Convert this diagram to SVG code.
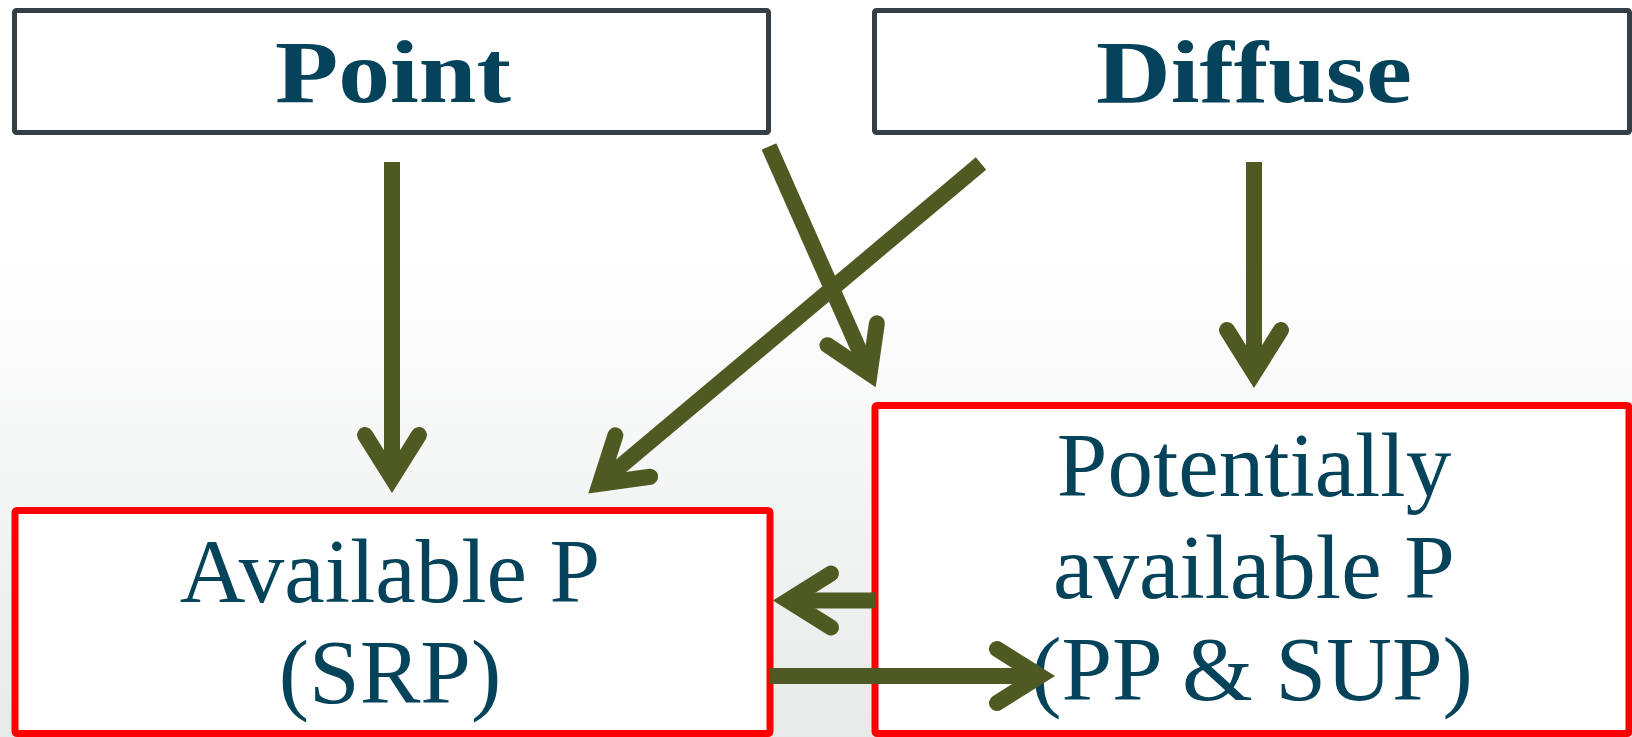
<svg xmlns="http://www.w3.org/2000/svg" width="1632" height="737" viewBox="0 0 1632 737">
  <defs>
    <linearGradient id="bg" x1="0" y1="0" x2="0" y2="1">
      <stop offset="0" stop-color="#ffffff"/>
      <stop offset="0.35" stop-color="#ffffff"/>
      <stop offset="1" stop-color="#e8eaea"/>
    </linearGradient>
    <marker id="head" markerUnits="userSpaceOnUse" orient="auto" viewBox="-60 -40 80 80" markerWidth="80" markerHeight="80" refX="0" refY="0">
      <path d="M -43,-27 L 0,0 L -43,27" fill="none" stroke="#4f5a22" stroke-width="16" stroke-linecap="round" stroke-linejoin="miter" stroke-miterlimit="10"/>
    </marker>
    <style>
      .src { fill: #ffffff; stroke: #343e44; stroke-width: 5; }
      .pool { fill: #ffffff; stroke: #ff0000; stroke-width: 7; }
      .title { font-family: "Liberation Serif", "Times New Roman", serif; font-weight: bold; font-size: 88px; fill: #05435a; text-anchor: middle; }
      .label { font-family: "Liberation Serif", "Times New Roman", serif; font-size: 91px; fill: #05435a; text-anchor: middle; }
      .conn { stroke: #4f5a22; stroke-width: 16; fill: none; stroke-linecap: butt; marker-end: url(#head); }
    </style>
  </defs>
  <rect x="0" y="0" width="1632" height="737" fill="url(#bg)"/>

  <g id="point">
    <rect class="src" x="14.5" y="10.5" width="754" height="122" rx="2"/>
    <text class="title" x="393" y="102" textLength="236" lengthAdjust="spacingAndGlyphs">Point</text>
  </g>

  <g id="diffuse">
    <rect class="src" x="874.5" y="10.5" width="755" height="122" rx="2"/>
    <text class="title" x="1254" y="102" textLength="316" lengthAdjust="spacingAndGlyphs">Diffuse</text>
  </g>

  <g id="available">
    <rect class="pool" x="15" y="510.5" width="755" height="223" rx="2"/>
    <text class="label" x="390" y="602">Available P</text>
    <text class="label" x="390" y="703">(SRP)</text>
  </g>

  <g id="potentially">
    <rect class="pool" x="875" y="405.5" width="754" height="328" rx="2"/>
    <text class="label" x="1254" y="496">Potentially</text>
    <text class="label" x="1254" y="598">available P</text>
    <text class="label" x="1252" y="700">(PP &amp; SUP)</text>
  </g>

  <g id="connectors">
    <line class="conn" x1="392" y1="162" x2="392" y2="478"/>
    <line class="conn" x1="1254" y1="162" x2="1254" y2="373"/>
    <line class="conn" x1="769" y1="146.5" x2="869.6" y2="373.6"/>
    <line class="conn" x1="981" y1="163.5" x2="599.8" y2="483.7"/>
    <line class="conn" x1="875" y1="600.5" x2="788" y2="600.5"/>
    <line class="conn" x1="770" y1="676" x2="1040" y2="676"/>
  </g>
</svg>
